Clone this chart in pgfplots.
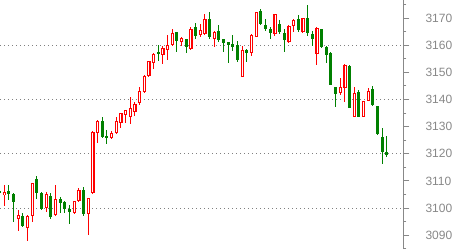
\documentclass[border=0pt]{standalone}
\usepackage{pgfplots}
\usepackage{pgfplotstable}
\usepackage{fontspec}
\setmainfont{Liberation Sans}
\pgfplotsset{compat=1.18}
\definecolor{upred}{RGB}{255,0,0}
\definecolor{dngreen}{RGB}{0,128,0}
\definecolor{axgray}{RGB}{136,136,136}
\pgfplotstableread{
x o h l c
1 3104.9 3108.5 3100.9 3105.8
4 3095.9 3099.3 3091.7 3097.5
6 3092.5 3097.3 3088.0 3097.1
7 3097.2 3109.3 3094.8 3109.1
10 3099.9 3105.8 3098.7 3105.3
12 3097.5 3108.5 3097.1 3103.2
16 3098.1 3102.7 3097.9 3102.5
17 3102.6 3107.5 3102.2 3106.7
19 3097.7 3103.8 3090.2 3103.6
20 3105.4 3128.5 3105.2 3127.9
21 3127.8 3132.3 3123.9 3132.1
24 3125.7 3128.4 3125.5 3127.6
25 3127.6 3133.5 3127.4 3132.0
26 3131.3 3135.1 3129.6 3134.9
27 3134.2 3136.2 3131.3 3136.0
28 3133.7 3140.8 3130.9 3136.8
29 3135.5 3139.0 3134.0 3138.4
30 3138.8 3144.5 3138.0 3143.1
31 3142.9 3148.9 3142.3 3148.7
32 3148.7 3154.3 3148.2 3154.1
33 3153.3 3157.0 3151.4 3156.8
35 3156.4 3159.9 3153.0 3158.9
36 3158.3 3163.8 3154.6 3160.0
37 3160.1 3165.9 3159.9 3164.4
39 3161.3 3163.0 3159.7 3162.6
41 3158.5 3166.6 3158.3 3165.9
43 3163.9 3167.9 3163.0 3165.6
44 3164.1 3171.7 3163.9 3169.7
46 3162.2 3165.2 3159.5 3165.0
52 3148.4 3159.7 3148.2 3158.3
54 3157.1 3164.2 3156.2 3163.8
55 3163.2 3172.4 3163.0 3172.2
59 3164.1 3171.6 3163.4 3171.4
62 3161.1 3167.3 3160.9 3167.1
63 3167.2 3169.7 3165.0 3169.3
65 3164.8 3170.2 3164.6 3170.0
68 3156.7 3166.7 3152.9 3166.4
73 3142.5 3147.8 3141.7 3144.5
74 3144.1 3153.1 3139.2 3152.7
76 3133.7 3144.5 3133.5 3142.3
78 3133.7 3139.6 3133.5 3139.4
79 3139.5 3144.3 3139.3 3143.2
}\uptable
\pgfplotstableread{
x o h l c
0 3106.3 3107.0 3105.0 3105.7
2 3106.3 3108.5 3103.0 3105.2
3 3105.2 3105.5 3095.0 3102.4
5 3097.2 3098.1 3092.9 3093.5
8 3110.7 3111.9 3103.5 3105.4
9 3105.4 3105.8 3099.3 3099.7
11 3104.5 3105.7 3095.9 3096.6
13 3103.3 3104.2 3098.3 3102.0
14 3102.2 3102.5 3098.1 3099.8
15 3099.8 3101.1 3094.1 3098.7
18 3106.7 3107.9 3097.2 3097.8
22 3132.1 3133.6 3126.0 3126.3
23 3126.6 3128.8 3123.5 3125.8
34 3157.5 3160.1 3154.3 3156.9
38 3164.8 3165.0 3157.6 3161.7
40 3162.2 3162.5 3157.1 3159.3
42 3166.7 3168.2 3162.3 3163.5
45 3169.7 3172.2 3162.2 3163.0
47 3165.3 3167.5 3161.3 3161.9
48 3162.2 3162.4 3157.6 3161.0
49 3161.1 3161.3 3153.6 3160.1
50 3160.6 3163.8 3158.0 3159.4
51 3160.1 3161.5 3153.7 3154.7
53 3158.3 3158.5 3153.9 3157.3
56 3172.6 3173.4 3167.5 3167.7
57 3167.5 3169.7 3165.3 3165.9
58 3166.0 3166.9 3162.4 3164.4
60 3167.9 3169.3 3164.2 3165.0
61 3164.6 3166.0 3157.6 3161.9
64 3169.7 3171.2 3165.0 3165.6
66 3170.2 3174.9 3163.5 3164.4
67 3164.2 3165.4 3159.9 3162.2
69 3166.0 3166.2 3159.1 3159.5
70 3159.4 3159.6 3153.6 3156.6
71 3157.3 3157.5 3145.2 3145.4
72 3144.5 3144.7 3137.4 3142.1
75 3152.4 3152.6 3136.8 3137.0
77 3142.9 3143.5 3133.5 3133.7
80 3143.9 3145.0 3137.6 3138.0
81 3137.6 3137.8 3127.0 3127.2
82 3126.3 3129.4 3116.4 3120.8
83 3120.7 3126.6 3118.9 3119.6
}\dntable
\pgfplotsset{
  candle/.style n args={2}{draw=none, mark=none, forget plot,
    error bars/.cd, y dir=both, y explicit, error mark=none,
    error bar style={solid, draw=#1, line width=#2}},
}
\begin{document}
\begin{tikzpicture}
\begin{axis}[
  name=ax,
  scale only axis,
  width=403.3pt, height=249pt,
  xmin=0.09, xmax=86.5,
  ymin=3084.9, ymax=3176.7,
  axis x line=none,
  axis y line*=right,
  axis line style={draw=axgray, line width=1pt},
  ytick={3090,3100,...,3170},
  minor ytick={3085,3095,...,3175},
  tick align=outside,
  major tick length=6pt,
  minor tick length=3pt,
  every tick/.style={draw=axgray, line width=1pt},
  extra y ticks={3100,3120,3140,3160},
  extra y tick labels={},
  extra y tick style={grid=major, major tick length=0pt},
  major grid style={draw=gray, line width=1pt, dash pattern=on 1pt off 3pt},
  /pgf/number format/assume math mode=true,
  yticklabel style={/pgf/number format/1000 sep={}, anchor=west, inner sep=0pt, xshift=16pt, text=axgray, font=\fontsize{12}{12}\selectfont},
  clip=true,
]
% wicks
\addplot[candle={dngreen}{1pt}]
  table[x=x, y expr={(\thisrow{h}+\thisrow{l})/2}, y error expr={(\thisrow{h}-\thisrow{l})/2}] {\dntable};
\addplot[candle={upred}{1pt}]
  table[x=x, y expr={(\thisrow{h}+\thisrow{l})/2}, y error expr={(\thisrow{h}-\thisrow{l})/2}] {\uptable};
% green bodies
\addplot[candle={dngreen}{3pt}]
  table[x=x, y expr={(\thisrow{o}+\thisrow{c})/2}, y error expr={abs(\thisrow{o}-\thisrow{c})/2}] {\dntable};
% red hollow bodies
\addplot[candle={upred}{3.2pt}]
  table[x=x, y expr={(\thisrow{o}+\thisrow{c})/2}, y error expr={abs(\thisrow{o}-\thisrow{c})/2}] {\uptable};
\addplot[candle={white}{0.9pt}]
  table[x=x, y expr={(\thisrow{o}+\thisrow{c})/2}, y error expr={max(abs(\thisrow{o}-\thisrow{c})/2-0.3686,0)}] {\uptable};
\end{axis}
\pgfresetboundingbox
\path (ax.south west) rectangle ([xshift=50.7pt]ax.north east);
\end{tikzpicture}
\end{document}
